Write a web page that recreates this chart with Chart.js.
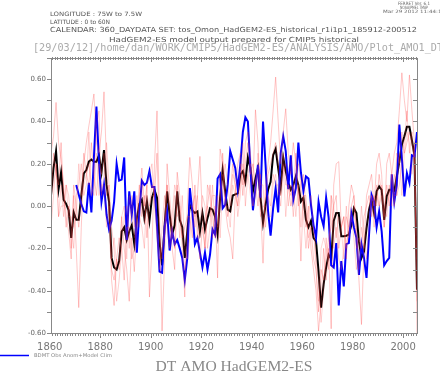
<!DOCTYPE html>
<html>
<head>
<meta charset="utf-8">
<script src="https://cdn.jsdelivr.net/npm/chart.js@4.4.0/dist/chart.umd.min.js"></script>
<style>
  body { margin: 0; background: #fff; }
  #container { width: 440px; height: 374px; position: relative; }
</style>
</head>
<body>
<div id="container">
  <canvas id="myChart" width="440" height="374"></canvas>
</div>
<script>
// annual values 1860..2005
const firstYear = 1860
const lastYear = 2005
const years = []
for (let y = firstYear; y <= lastYear; y++) years.push(y)

const xTicks = [1860, 1880, 1900, 1920, 1940, 1960, 1980, 2000]
const yTicks = [-0.6, -0.4, -0.2, 0.0, 0.2, 0.4, 0.6]

// ensemble mean (black)
const ensMean = [
  0.05, 0.18, 0.26, 0.08, 0.16, 0.03, 0.01, -0.02, -0.15, -0.03,
  -0.065, -0.065, 0.05, 0.155, 0.17, 0.21, 0.22, 0.21, 0.21, 0.24,
  0.16, 0.265, 0.10, 0.02, -0.245, -0.29, -0.30, -0.26, -0.12, -0.10,
  -0.16, -0.12, -0.09, -0.18, -0.06, 0.01, 0.03, -0.057, 0.022, -0.07,
  0.04, 0.077, 0.04, -0.17, -0.28, -0.096, 0.07, -0.04, -0.135, -0.09,
  0.07, -0.065, -0.10, -0.245, -0.12, 0.006, -0.02, -0.033, -0.025, -0.12,
  -0.033, -0.11, -0.057, -0.01, -0.017, -0.05, -0.135, 0.04, 0.17, 0.07,
  -0.017, -0.025, 0.05, 0.055, 0.06, 0.15, 0.165, 0.115, 0.23, 0.18,
  0.07, 0.13, 0.18, 0.04, -0.08, 0.006, 0.077, 0.115, 0.24, 0.27,
  0.18, 0.09, 0.23, 0.165, 0.11, 0.077, 0.10, 0.14, 0.10, 0.022,
  0.04, -0.065, -0.10, -0.07, -0.15, -0.167, -0.31, -0.48, -0.37, -0.29,
  -0.23, -0.25, -0.07, -0.033, -0.033, -0.143, -0.143, -0.14, -0.135, -0.09,
  -0.01, -0.033, -0.167, -0.245, -0.215, -0.104, -0.017, 0.03, -0.033, 0.07,
  0.093, 0.077, -0.065, 0.046, 0.077, 0.077, 0.07, 0.14, 0.21, 0.29,
  0.33, 0.375, 0.375, 0.31, 0.24, -0.395
]

// BDMT obs anom + model clim (blue)
const obs = [
  null, null, null, null, null, null, null, null, null, null,
  0.10, 0.054, 0.01, -0.025, -0.03, 0.11, -0.03, 0.23, 0.47, 0.21,
  0.02, 0.10, -0.04, -0.11, -0.07, 0.02, 0.20, 0.12, 0.125, 0.23,
  -0.16, 0.07, -0.04, 0.07, -0.22, -0.025, 0.12, 0.10, 0.11, 0.165,
  0.09, 0.09, -0.09, -0.31, -0.315, -0.10, -0.025, -0.21, -0.12, -0.18,
  -0.16, -0.20, -0.245, -0.35, -0.245, 0.085, -0.025, -0.18, -0.15, -0.22,
  -0.29, -0.22, -0.30, -0.23, -0.11, -0.135, 0.13, 0.15, -0.01, 0.006,
  0.10, 0.26, 0.22, 0.18, 0.08, 0.195, 0.35, 0.42, 0.40, 0.18,
  -0.02, 0.085, 0.195, 0.04, 0.40, 0.195, -0.025, -0.14, -0.01, 0.085,
  -0.03, 0.25, 0.33, 0.26, 0.08, 0.24, 0.03, 0.085, 0.30, 0.16,
  0.07, 0.14, 0.13, 0.006, -0.09, -0.15, 0.02, -0.05, -0.095, 0.04,
  -0.055, -0.28, -0.29, -0.175, -0.47, -0.26, -0.38, -0.18, -0.175, -0.035,
  -0.10, -0.15, -0.325, -0.18, -0.245, -0.34, -0.135, 0.054, 0.02, -0.10,
  -0.025, -0.12, -0.28, -0.26, -0.245, 0.15, 0.02, 0.10, 0.385, 0.23,
  0.046, 0.155, 0.11, 0.24, 0.235, 0.35
]

// individual members (pink)
const member1 = [
  0.25, 0.33, 0.49, 0.30, 0.22, 0.10, -0.05, -0.12, -0.25, 0.05,
  -0.20, -0.48, -0.10, 0.20, 0.30, 0.38, 0.45, 0.53, 0.30, 0.25,
  0.35, 0.54, 0.20, -0.05, -0.35, -0.47, -0.25, -0.30, -0.05, -0.20,
  -0.30, -0.45, -0.15, -0.31, -0.10, 0.05, 0.18, 0.00, 0.10, -0.43,
  -0.20, 0.20, 0.45, -0.05, -0.59, -0.25, 0.20, 0.05, -0.10, -0.20,
  0.16, 0.05, -0.20, -0.43, 0.00, 0.23, 0.10, -0.10, 0.05, 0.235,
  -0.05, -0.20, 0.10, 0.05, -0.15, 0.00, -0.34, 0.27, 0.20, 0.00,
  -0.10, -0.15, -0.25, 0.05, 0.20, 0.25, 0.10, 0.30, 0.35, 0.25,
  0.10, 0.455, 0.30, 0.00, -0.27, 0.10, 0.20, 0.30, 0.45, 0.61,
  0.40, 0.20, 0.35, 0.46, 0.25, 0.15, 0.30, 0.20, 0.10, -0.26,
  0.05, -0.10, 0.00, -0.20, -0.30, -0.40, -0.59, -0.45, -0.20, -0.35,
  -0.20, -0.58, 0.10, 0.20, 0.21, -0.10, -0.05, -0.25, 0.00, 0.10,
  0.05, -0.10, -0.35, -0.56, -0.20, 0.05, 0.10, 0.15, 0.00, 0.20,
  0.25, 0.15, -0.10, 0.20, 0.25, 0.15, 0.25, 0.30, 0.45, 0.63,
  0.50, 0.40, 0.62, 0.45, 0.30, -0.60
]
const member2 = [
  -0.10, 0.05, 0.20, -0.05, 0.10, -0.05, 0.10, 0.05, -0.10, -0.20,
  0.05, 0.10, 0.20, 0.05, 0.10, 0.35, 0.05, 0.10, 0.38, 0.45,
  0.05, 0.15, 0.30, 0.10, -0.10, -0.20, -0.45, -0.35, -0.20, -0.05,
  0.00, -0.20, 0.05, -0.10, 0.05, -0.05, -0.10, -0.20, 0.10, 0.15,
  0.20, 0.00, -0.15, -0.30, -0.10, 0.05, -0.10, -0.20, -0.05, 0.10,
  0.05, -0.15, 0.05, -0.20, -0.25, -0.15, 0.00, 0.05, -0.15, -0.10,
  0.05, 0.00, -0.20, -0.10, 0.10, -0.10, 0.05, -0.15, 0.10, 0.20,
  0.10, 0.00, 0.15, 0.10, -0.05, 0.05, 0.30, 0.00, 0.15, 0.20,
  0.00, 0.05, 0.25, 0.10, 0.10, -0.10, 0.05, 0.00, 0.15, 0.10,
  0.10, 0.00, 0.15, 0.20, 0.00, 0.10, -0.05, 0.15, 0.20, 0.10,
  -0.05, -0.20, -0.05, 0.05, -0.10, -0.25, -0.35, -0.55, -0.40, -0.15,
  -0.30, 0.05, -0.20, -0.10, -0.25, -0.30, -0.20, 0.00, -0.15, -0.05,
  -0.15, -0.30, -0.20, 0.00, -0.15, -0.25, -0.10, 0.05, -0.10, 0.10,
  0.00, 0.10, 0.00, -0.05, 0.10, 0.00, 0.15, 0.05, 0.10, 0.20,
  0.30, 0.45, 0.25, 0.35, 0.20, -0.30
]
const member3 = [
  0.00, 0.25, 0.15, 0.10, 0.30, 0.05, -0.10, 0.00, -0.20, 0.10,
  0.00, -0.10, 0.05, 0.25, 0.15, 0.10, 0.30, 0.15, 0.05, 0.20,
  0.15, 0.25, 0.05, 0.10, -0.30, -0.35, -0.25, -0.15, -0.20, -0.35,
  -0.10, -0.10, -0.25, -0.20, -0.05, 0.10, -0.05, 0.05, -0.15, 0.00,
  0.10, 0.05, 0.25, -0.15, -0.25, -0.05, 0.10, -0.05, -0.20, -0.30,
  0.10, -0.05, -0.15, -0.10, -0.05, -0.05, -0.15, 0.10, -0.10, -0.25,
  -0.10, -0.20, 0.00, 0.10, -0.05, -0.15, -0.10, 0.00, 0.25, 0.05,
  -0.05, 0.05, 0.20, 0.10, 0.00, 0.20, 0.05, 0.20, 0.30, 0.15,
  0.20, 0.10, 0.00, 0.15, -0.10, 0.05, 0.15, 0.20, 0.25, 0.30,
  0.20, 0.05, 0.25, 0.10, 0.10, 0.00, 0.05, 0.25, 0.00, 0.10,
  0.15, 0.00, -0.20, -0.10, -0.25, -0.30, -0.50, -0.30, -0.35, -0.25,
  -0.15, -0.10, 0.00, 0.05, -0.20, -0.10, -0.05, -0.20, -0.10, 0.00,
  0.05, -0.20, -0.15, -0.20, -0.05, 0.00, 0.05, -0.05, 0.05, 0.00,
  0.15, 0.05, -0.05, 0.10, 0.00, 0.15, 0.00, 0.25, 0.20, 0.35,
  0.25, 0.30, 0.35, 0.30, 0.20, -0.45
]
const member4 = [
  0.05, 0.10, 0.20, -0.05, 0.00, 0.00, 0.10, -0.05, -0.05, -0.10,
  -0.05, 0.20, 0.05, 0.10, 0.15, 0.20, 0.10, 0.05, 0.25, 0.05,
  0.10, 0.10, -0.10, 0.00, -0.25, -0.15, -0.28, -0.25, -0.05, 0.00,
  -0.25, 0.05, -0.05, -0.15, -0.05, -0.10, 0.10, -0.08, 0.05, 0.00,
  0.05, 0.05, -0.10, -0.25, -0.20, -0.15, 0.10, 0.00, -0.15, 0.05,
  -0.05, 0.00, -0.10, -0.30, -0.20, 0.00, 0.00, -0.05, 0.05, -0.15,
  -0.10, -0.05, 0.00, -0.05, 0.05, 0.05, -0.10, 0.05, 0.15, 0.00,
  0.00, -0.10, 0.10, 0.05, 0.00, 0.10, 0.20, 0.10, 0.15, 0.05,
  0.00, 0.10, 0.15, -0.05, 0.00, 0.00, -0.05, -0.05, 0.10, 0.15,
  0.05, 0.10, 0.20, -0.05, 0.10, 0.05, 0.10, -0.05, 0.10, -0.10,
  0.05, 0.05, -0.15, -0.10, -0.10, -0.30, -0.45, -0.20, -0.15, -0.20,
  -0.25, 0.05, 0.00, -0.15, -0.05, -0.10, -0.25, -0.05, -0.10, -0.05,
  0.00, -0.10, -0.30, -0.10, -0.20, -0.10, 0.00, 0.05, -0.05, 0.05,
  0.00, 0.05, -0.10, 0.00, 0.05, 0.15, 0.05, 0.05, 0.25, 0.05,
  0.25, 0.35, 0.30, 0.15, 0.30, -0.25
]

const toPoints = arr => years.map((y, i) => ({ x: y + 0.5, y: arr[i] }))

function txt(ctx, s, x, y, font, color, align, w) {
  ctx.save()
  ctx.font = font
  ctx.fillStyle = color
  ctx.textBaseline = 'middle'
  ctx.textAlign = 'left'
  const m = ctx.measureText(s).width
  const sx = w ? w / m : 1
  const x0 = align === 'center' ? x - (m * sx) / 2 : x
  ctx.translate(x0, y)
  ctx.scale(sx, 1)
  ctx.fillText(s, 0, 0)
  ctx.restore()
}

const framePlugin = {
  id: 'frame',
  afterDatasetsDraw(chart) {
    const { ctx, chartArea: a, scales } = chart
    const xs = scales.x, ys = scales.y
    ctx.save()
    ctx.strokeStyle = '#888'
    ctx.lineWidth = 1
    ctx.strokeRect(a.left + 0.5, a.top + 0.5, a.right - a.left, a.bottom - a.top)
    ctx.beginPath()
    // y ticks every 0.1
    for (let k = -6; k <= 7; k++) {
      const py = Math.round(ys.getPixelForValue(k / 10)) + 0.5
      ctx.moveTo(a.left - 4, py); ctx.lineTo(a.left, py)
      ctx.moveTo(a.right - 4, py); ctx.lineTo(a.right, py)
    }
    // x ticks every year
    for (let yr = 1861; yr <= 2005; yr++) {
      const px = Math.round(xs.getPixelForValue(yr)) + 0.5
      const major = yr % 20 === 0
      ctx.moveTo(px, a.bottom); ctx.lineTo(px, a.bottom + (major ? 5 : 3))
      ctx.moveTo(px, a.top - 1); ctx.lineTo(px, a.top + (major ? 4 : 2))
    }
    ctx.stroke()
    ctx.restore()
  },
  afterDraw(chart) {
    const ctx = chart.ctx
    txt(ctx, 'FERRET Ver. 6.1', 414, 4, '4.5px DejaVu Sans', '#666', 'center', 32)
    txt(ctx, 'NOAA/PMEL TMAP', 414, 8, '4.5px DejaVu Sans', '#666', 'center', 28)
    txt(ctx, 'Mar 29 2012 11:44:11', 414, 12, '4.5px DejaVu Sans', '#666', 'center', 62)
    txt(ctx, 'LONGITUDE : 75W to 7.5W', 50, 14, '6px DejaVu Sans', '#555', 'left', 92)
    txt(ctx, 'LATITUDE : 0 to 60N', 50, 22, '6px DejaVu Sans', '#555', 'left', 60)
    txt(ctx, 'CALENDAR: 360_DAYDATA SET: tos_Omon_HadGEM2-ES_historical_r1i1p1_185912-200512', 50, 30.5, '7px DejaVu Sans', '#555', 'left', 367)
    txt(ctx, 'HadGEM2-ES model output prepared for CMIP5 historical', 234, 40, '7px DejaVu Sans', '#555', 'center', 250)
    txt(ctx, '[29/03/12]/home/dan/WORK/CMIP5/HadGEM2-ES/ANALYSIS/AMO/Plot_AMO1_DT', 33, 48.5, '10px DejaVu Sans Mono', '#aaa', 'left', 410)
    // legend
    ctx.save()
    ctx.strokeStyle = '#0000ff'
    ctx.lineWidth = 1.5
    ctx.beginPath(); ctx.moveTo(0, 355.5); ctx.lineTo(29, 355.5); ctx.stroke()
    ctx.restore()
    txt(ctx, 'BDMT Obs Anom+Model Clim', 34, 356, '5px DejaVu Sans', '#888', 'left', 78)
    txt(ctx, 'DT AMO HadGEM2-ES', 234, 367, '15px Liberation Serif', '#888', 'center', 157)
  }
}

const myChart = document.getElementById('myChart').getContext('2d')
new Chart(myChart, {
  type: 'line',
  data: {
    datasets: [
      { label: 'm1', data: toPoints(member1), borderColor: 'rgba(255,70,70,0.30)', borderWidth: 1 },
      { label: 'm2', data: toPoints(member2), borderColor: 'rgba(255,70,70,0.25)', borderWidth: 1 },
      { label: 'm3', data: toPoints(member3), borderColor: 'rgba(255,70,70,0.30)', borderWidth: 1 },
      { label: 'm4', data: toPoints(member4), borderColor: 'rgba(255,70,70,0.22)', borderWidth: 1 },
      { label: 'BDMT Obs Anom+Model Clim', data: toPoints(obs), borderColor: '#0000ff', borderWidth: 2 },
      { label: 'mean', data: toPoints(ensMean), borderColor: '#000000', borderWidth: 2 }
    ]
  },
  options: {
    responsive: false,
    animation: false,
    layout: { padding: { top: 58, right: 23, left: 0, bottom: 0 } },
    elements: { point: { radius: 0 }, line: { tension: 0, fill: false } },
    plugins: { legend: { display: false }, tooltip: { enabled: false }, title: { display: false } },
    scales: {
      x: {
        type: 'linear',
        min: 1860.5,
        max: 2005.5,
        grid: { display: false, drawTicks: false },
        border: { display: false },
        ticks: {
          color: '#777',
          font: { family: 'DejaVu Sans', size: 10 },
          padding: 8,
          maxRotation: 0,
          autoSkip: false,
          callback: v => String(v)
        },
        afterBuildTicks: s => { s.ticks = xTicks.map(v => ({ value: v })) },
        afterFit: s => { s.height = 41 }
      },
      y: {
        min: -0.6,
        max: 0.7,
        grid: { display: false, drawTicks: false },
        border: { display: false },
        ticks: {
          color: '#666',
          font: { family: 'DejaVu Sans', size: 7 },
          padding: 5,
          autoSkip: false,
          callback: v => v.toFixed(2)
        },
        afterBuildTicks: s => { s.ticks = yTicks.map(v => ({ value: v })) },
        afterFit: s => { s.width = 51 }
      }
    }
  },
  plugins: [framePlugin]
})
</script>
</body>
</html>
